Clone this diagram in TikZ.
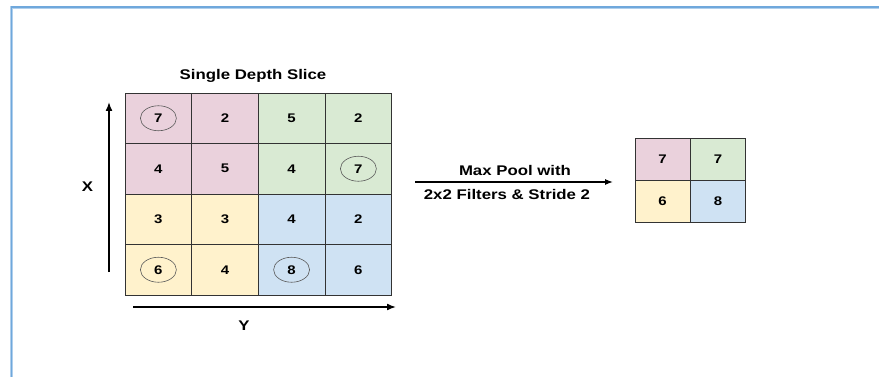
\documentclass[tikz,border=0pt]{standalone}
\usepackage{fontspec}
\setmainfont{Liberation Sans}[FakeStretch=1.2]
\usetikzlibrary{arrows.meta,shapes.geometric}
\definecolor{cpink}{HTML}{EAD1DC}
\definecolor{cgreen}{HTML}{D9EAD3}
\definecolor{cyellow}{HTML}{FFF2CC}
\definecolor{cblue}{HTML}{CFE2F3}
\definecolor{frameblue}{HTML}{6FA8DC}
\definecolor{gridline}{HTML}{333333}
\tikzset{
  cellbox/.style={draw=gridline, line width=0.8pt, minimum width=66.75pt, minimum height=50.5pt, inner sep=0pt, font=\bfseries\fontsize{12.5}{14}\selectfont},
  smallcell/.style={draw=gridline, line width=0.8pt, minimum width=55.3pt, minimum height=42pt, inner sep=0pt, font=\bfseries\fontsize{12.5}{14}\selectfont},
  ring/.style={ellipse, draw=black!65, line width=0.6pt, minimum width=36pt, minimum height=25pt, inner sep=0pt},
  lbl/.style={font=\bfseries\fontsize{14}{16}\selectfont, inner sep=0pt, anchor=base},
  axis/.style={line width=1.6pt, -{Latex[length=9pt,width=7pt]}}
}
\begin{document}
\begin{tikzpicture}[x=1pt,y=-1pt]
\useasboundingbox (0,0) rectangle (879,377);
% frame (top and left edges visible)
\draw[frameblue!55, line width=3pt] (885,7.2) -- (11.6,7.2) -- (11.6,383);
\draw[frameblue, line width=1.4pt] (885,7.2) -- (11.6,7.2) -- (11.6,383);
% title
\node[lbl] (title) at (253,79.3) {Single Depth Slice};
% grid
\foreach \r/\y in {0/118.25,1/168.75,2/219.25,3/269.75}{
  \foreach \c/\x in {0/158.4,1/225.1,2/291.6,3/358.4}{
    \coordinate (p\r\c) at (\x,\y);
  }
}
\node[cellbox, fill=cpink]   (c00) at (p00) {7};
\node[cellbox, fill=cpink]   (c01) at (p01) {2};
\node[cellbox, fill=cgreen]  (c02) at (p02) {5};
\node[cellbox, fill=cgreen]  (c03) at (p03) {2};
\node[cellbox, fill=cpink]   (c10) at (p10) {4};
\node[cellbox, fill=cpink]   (c11) at (p11) {5};
\node[cellbox, fill=cgreen]  (c12) at (p12) {4};
\node[cellbox, fill=cgreen]  (c13) at (p13) {7};
\node[cellbox, fill=cyellow] (c20) at (p20) {3};
\node[cellbox, fill=cyellow] (c21) at (p21) {3};
\node[cellbox, fill=cblue]   (c22) at (p22) {4};
\node[cellbox, fill=cblue]   (c23) at (p23) {2};
\node[cellbox, fill=cyellow] (c30) at (p30) {6};
\node[cellbox, fill=cyellow] (c31) at (p31) {4};
\node[cellbox, fill=cblue]   (c32) at (p32) {8};
\node[cellbox, fill=cblue]   (c33) at (p33) {6};
% rings
\node[ring] (r00) at (c00.center) {};
\node[ring] (r13) at (c13.center) {};
\node[ring] (r30) at (c30.center) {};
\node[ring] (r32) at (c32.center) {};
% axes
\coordinate (xa0) at (109,272);
\coordinate (xa1) at (109,102);
\coordinate (ya0) at (133,307);
\coordinate (ya1) at (396,307);
\draw[axis] (xa0) -- (xa1);
\draw[axis] (ya0) -- (ya1);
\node[lbl] (xl) at (87.5,191.7) {X};
\node[lbl] (yl) at (244,330) {Y};
% max pool arrow
\coordinate (m0) at (415,182);
\coordinate (m1) at (613,182);
\draw[line width=1.3pt, -{Latex[length=8pt,width=6pt]}] (m0) -- (m1);
\node[lbl] (mp1) at (515,175.7) {Max Pool with};
\node[lbl] (mp2) at (507,199.3) {2x2 Filters \& Stride 2};
% output grid
\node[smallcell, fill=cpink]   (o00) at (662.65,159.3) {7};
\node[smallcell, fill=cgreen]  (o01) at (717.95,159.3) {7};
\node[smallcell, fill=cyellow] (o10) at (662.65,201.3) {6};
\node[smallcell, fill=cblue]   (o11) at (717.95,201.3) {8};
\end{tikzpicture}
\end{document}
